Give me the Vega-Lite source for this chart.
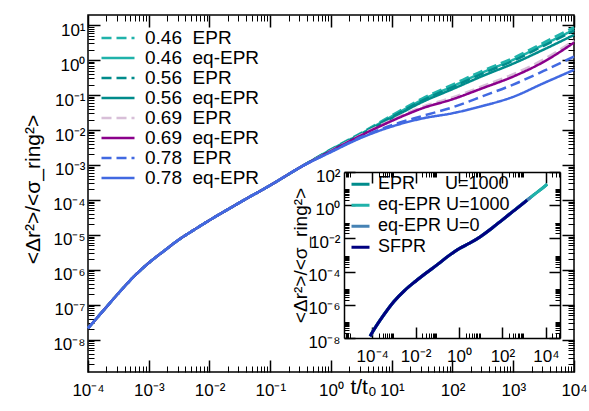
{
  "$schema": "https://vega.github.io/schema/vega-lite/v6.json",
  "width": 486,
  "height": 357,
  "autosize": {"type": "none"},
  "padding": {"left": 88, "top": 15, "right": 15, "bottom": 39},
  "background": "white",
  "config": {
    "view": {"stroke": "black", "strokeWidth": 1.5},
    "font": "Liberation Sans",
    "axis": {
      "labelFont": "Liberation Sans", "labelFontSize": 17, "labelColor": "black",
      "titleFont": "Liberation Sans", "titleFontWeight": "normal", "titleColor": "black",
      "tickColor": "black", "domainColor": "black", "domainWidth": 1.5,
      "grid": false, "labelFlush": false, "labelOverlap": false
    },
    "legend": {"labelFont": "Liberation Sans", "labelFontSize": 18, "labelColor": "black", "labelFontWeight": "normal"}
  },
  "datasets": {
    "main": [
      {"s":"0.46\u00a0\u00a0EPR","t":0.0001,"v":2.138e-8},{"s":"0.46\u00a0\u00a0EPR","t":0.0001778,"v":6.761e-8},{"s":"0.46\u00a0\u00a0EPR","t":0.0003162,"v":2.138e-7},{"s":"0.46\u00a0\u00a0EPR","t":0.0005623,"v":6.31e-7},{"s":"0.46\u00a0\u00a0EPR","t":0.001,"v":1.585e-6},{"s":"0.46\u00a0\u00a0EPR","t":0.001778,"v":3.467e-6},{"s":"0.46\u00a0\u00a0EPR","t":0.003162,"v":7.413e-6},{"s":"0.46\u00a0\u00a0EPR","t":0.005623,"v":1.413e-5},{"s":"0.46\u00a0\u00a0EPR","t":0.01,"v":2.63e-5},{"s":"0.46\u00a0\u00a0EPR","t":0.03162,"v":8.511e-5},{"s":"0.46\u00a0\u00a0EPR","t":0.1,"v":2.63e-4},{"s":"0.46\u00a0\u00a0EPR","t":0.3162,"v":8.71e-4},
      {"s":"0.46\u00a0\u00a0EPR","t":1,"v":2.818e-3},{"s":"0.46\u00a0\u00a0EPR","t":3.162,"v":8.318e-3},{"s":"0.46\u00a0\u00a0EPR","t":10,"v":2.63e-2},{"s":"0.46\u00a0\u00a0EPR","t":31.62,"v":7.943e-2},{"s":"0.46\u00a0\u00a0EPR","t":100,"v":0.1995},{"s":"0.46\u00a0\u00a0EPR","t":316.2,"v":0.5012},{"s":"0.46\u00a0\u00a0EPR","t":1000,"v":1.148},{"s":"0.46\u00a0\u00a0EPR","t":3162,"v":3.162},{"s":"0.46\u00a0\u00a0EPR","t":10000,"v":8.71},

      {"s":"0.46\u00a0\u00a0eq-EPR","t":0.0001,"v":2.138e-8},{"s":"0.46\u00a0\u00a0eq-EPR","t":0.0001778,"v":6.761e-8},{"s":"0.46\u00a0\u00a0eq-EPR","t":0.0003162,"v":2.138e-7},{"s":"0.46\u00a0\u00a0eq-EPR","t":0.0005623,"v":6.31e-7},{"s":"0.46\u00a0\u00a0eq-EPR","t":0.001,"v":1.585e-6},{"s":"0.46\u00a0\u00a0eq-EPR","t":0.001778,"v":3.467e-6},{"s":"0.46\u00a0\u00a0eq-EPR","t":0.003162,"v":7.413e-6},{"s":"0.46\u00a0\u00a0eq-EPR","t":0.005623,"v":1.413e-5},{"s":"0.46\u00a0\u00a0eq-EPR","t":0.01,"v":2.63e-5},{"s":"0.46\u00a0\u00a0eq-EPR","t":0.03162,"v":8.511e-5},{"s":"0.46\u00a0\u00a0eq-EPR","t":0.1,"v":2.63e-4},{"s":"0.46\u00a0\u00a0eq-EPR","t":0.3162,"v":8.71e-4},
      {"s":"0.46\u00a0\u00a0eq-EPR","t":1,"v":2.754e-3},{"s":"0.46\u00a0\u00a0eq-EPR","t":3.162,"v":7.943e-3},{"s":"0.46\u00a0\u00a0eq-EPR","t":10,"v":2.455e-2},{"s":"0.46\u00a0\u00a0eq-EPR","t":31.62,"v":7.244e-2},{"s":"0.46\u00a0\u00a0eq-EPR","t":100,"v":0.1778},{"s":"0.46\u00a0\u00a0eq-EPR","t":316.2,"v":0.4467},{"s":"0.46\u00a0\u00a0eq-EPR","t":1000,"v":1.023},{"s":"0.46\u00a0\u00a0eq-EPR","t":3162,"v":2.754},{"s":"0.46\u00a0\u00a0eq-EPR","t":10000,"v":7.413},

      {"s":"0.56\u00a0\u00a0EPR","t":0.0001,"v":2.138e-8},{"s":"0.56\u00a0\u00a0EPR","t":0.0001778,"v":6.761e-8},{"s":"0.56\u00a0\u00a0EPR","t":0.0003162,"v":2.138e-7},{"s":"0.56\u00a0\u00a0EPR","t":0.0005623,"v":6.31e-7},{"s":"0.56\u00a0\u00a0EPR","t":0.001,"v":1.585e-6},{"s":"0.56\u00a0\u00a0EPR","t":0.001778,"v":3.467e-6},{"s":"0.56\u00a0\u00a0EPR","t":0.003162,"v":7.413e-6},{"s":"0.56\u00a0\u00a0EPR","t":0.005623,"v":1.413e-5},{"s":"0.56\u00a0\u00a0EPR","t":0.01,"v":2.63e-5},{"s":"0.56\u00a0\u00a0EPR","t":0.03162,"v":8.511e-5},{"s":"0.56\u00a0\u00a0EPR","t":0.1,"v":2.63e-4},{"s":"0.56\u00a0\u00a0EPR","t":0.3162,"v":8.71e-4},
      {"s":"0.56\u00a0\u00a0EPR","t":1,"v":2.692e-3},{"s":"0.56\u00a0\u00a0EPR","t":3.162,"v":7.762e-3},{"s":"0.56\u00a0\u00a0EPR","t":10,"v":2.344e-2},{"s":"0.56\u00a0\u00a0EPR","t":31.62,"v":6.918e-2},{"s":"0.56\u00a0\u00a0EPR","t":100,"v":0.1698},{"s":"0.56\u00a0\u00a0EPR","t":316.2,"v":0.4169},{"s":"0.56\u00a0\u00a0EPR","t":1000,"v":0.955},{"s":"0.56\u00a0\u00a0EPR","t":3162,"v":2.57},{"s":"0.56\u00a0\u00a0EPR","t":10000,"v":6.918},

      {"s":"0.56\u00a0\u00a0eq-EPR","t":0.0001,"v":2.138e-8},{"s":"0.56\u00a0\u00a0eq-EPR","t":0.0001778,"v":6.761e-8},{"s":"0.56\u00a0\u00a0eq-EPR","t":0.0003162,"v":2.138e-7},{"s":"0.56\u00a0\u00a0eq-EPR","t":0.0005623,"v":6.31e-7},{"s":"0.56\u00a0\u00a0eq-EPR","t":0.001,"v":1.585e-6},{"s":"0.56\u00a0\u00a0eq-EPR","t":0.001778,"v":3.467e-6},{"s":"0.56\u00a0\u00a0eq-EPR","t":0.003162,"v":7.413e-6},{"s":"0.56\u00a0\u00a0eq-EPR","t":0.005623,"v":1.413e-5},{"s":"0.56\u00a0\u00a0eq-EPR","t":0.01,"v":2.63e-5},{"s":"0.56\u00a0\u00a0eq-EPR","t":0.03162,"v":8.511e-5},{"s":"0.56\u00a0\u00a0eq-EPR","t":0.1,"v":2.63e-4},{"s":"0.56\u00a0\u00a0eq-EPR","t":0.3162,"v":8.71e-4},
      {"s":"0.56\u00a0\u00a0eq-EPR","t":1,"v":2.63e-3},{"s":"0.56\u00a0\u00a0eq-EPR","t":3.162,"v":7.586e-3},{"s":"0.56\u00a0\u00a0eq-EPR","t":10,"v":2.188e-2},{"s":"0.56\u00a0\u00a0eq-EPR","t":31.62,"v":6.31e-2},{"s":"0.56\u00a0\u00a0eq-EPR","t":100,"v":0.1479},{"s":"0.56\u00a0\u00a0eq-EPR","t":316.2,"v":0.3548},{"s":"0.56\u00a0\u00a0eq-EPR","t":1000,"v":0.7943},{"s":"0.56\u00a0\u00a0eq-EPR","t":3162,"v":1.995},{"s":"0.56\u00a0\u00a0eq-EPR","t":10000,"v":5.248},

      {"s":"0.69\u00a0\u00a0EPR","t":0.0001,"v":2.138e-8},{"s":"0.69\u00a0\u00a0EPR","t":0.0001778,"v":6.761e-8},{"s":"0.69\u00a0\u00a0EPR","t":0.0003162,"v":2.138e-7},{"s":"0.69\u00a0\u00a0EPR","t":0.0005623,"v":6.31e-7},{"s":"0.69\u00a0\u00a0EPR","t":0.001,"v":1.585e-6},{"s":"0.69\u00a0\u00a0EPR","t":0.001778,"v":3.467e-6},{"s":"0.69\u00a0\u00a0EPR","t":0.003162,"v":7.413e-6},{"s":"0.69\u00a0\u00a0EPR","t":0.005623,"v":1.413e-5},{"s":"0.69\u00a0\u00a0EPR","t":0.01,"v":2.63e-5},{"s":"0.69\u00a0\u00a0EPR","t":0.03162,"v":8.511e-5},{"s":"0.69\u00a0\u00a0EPR","t":0.1,"v":2.63e-4},{"s":"0.69\u00a0\u00a0EPR","t":0.3162,"v":8.71e-4},
      {"s":"0.69\u00a0\u00a0EPR","t":1,"v":2.57e-3},{"s":"0.69\u00a0\u00a0EPR","t":3.162,"v":7.413e-3},{"s":"0.69\u00a0\u00a0EPR","t":10,"v":1.95e-2},{"s":"0.69\u00a0\u00a0EPR","t":31.62,"v":4.571e-2},{"s":"0.69\u00a0\u00a0EPR","t":100,"v":8.511e-2},{"s":"0.69\u00a0\u00a0EPR","t":316.2,"v":0.182},{"s":"0.69\u00a0\u00a0EPR","t":1000,"v":0.3981},{"s":"0.69\u00a0\u00a0EPR","t":3162,"v":1.047},{"s":"0.69\u00a0\u00a0EPR","t":10000,"v":3.631},

      {"s":"0.69\u00a0\u00a0eq-EPR","t":0.0001,"v":2.138e-8},{"s":"0.69\u00a0\u00a0eq-EPR","t":0.0001778,"v":6.761e-8},{"s":"0.69\u00a0\u00a0eq-EPR","t":0.0003162,"v":2.138e-7},{"s":"0.69\u00a0\u00a0eq-EPR","t":0.0005623,"v":6.31e-7},{"s":"0.69\u00a0\u00a0eq-EPR","t":0.001,"v":1.585e-6},{"s":"0.69\u00a0\u00a0eq-EPR","t":0.001778,"v":3.467e-6},{"s":"0.69\u00a0\u00a0eq-EPR","t":0.003162,"v":7.413e-6},{"s":"0.69\u00a0\u00a0eq-EPR","t":0.005623,"v":1.413e-5},{"s":"0.69\u00a0\u00a0eq-EPR","t":0.01,"v":2.63e-5},{"s":"0.69\u00a0\u00a0eq-EPR","t":0.03162,"v":8.511e-5},{"s":"0.69\u00a0\u00a0eq-EPR","t":0.1,"v":2.63e-4},{"s":"0.69\u00a0\u00a0eq-EPR","t":0.3162,"v":8.71e-4},
      {"s":"0.69\u00a0\u00a0eq-EPR","t":1,"v":2.512e-3},{"s":"0.69\u00a0\u00a0eq-EPR","t":3.162,"v":7.079e-3},{"s":"0.69\u00a0\u00a0eq-EPR","t":10,"v":1.82e-2},{"s":"0.69\u00a0\u00a0eq-EPR","t":31.62,"v":4.169e-2},{"s":"0.69\u00a0\u00a0eq-EPR","t":100,"v":7.586e-2},{"s":"0.69\u00a0\u00a0eq-EPR","t":316.2,"v":0.1585},{"s":"0.69\u00a0\u00a0eq-EPR","t":1000,"v":0.3388},{"s":"0.69\u00a0\u00a0eq-EPR","t":3162,"v":0.8913},{"s":"0.69\u00a0\u00a0eq-EPR","t":10000,"v":3.162},

      {"s":"0.78\u00a0\u00a0EPR","t":0.0001,"v":2.138e-8},{"s":"0.78\u00a0\u00a0EPR","t":0.0001778,"v":6.761e-8},{"s":"0.78\u00a0\u00a0EPR","t":0.0003162,"v":2.138e-7},{"s":"0.78\u00a0\u00a0EPR","t":0.0005623,"v":6.31e-7},{"s":"0.78\u00a0\u00a0EPR","t":0.001,"v":1.585e-6},{"s":"0.78\u00a0\u00a0EPR","t":0.001778,"v":3.467e-6},{"s":"0.78\u00a0\u00a0EPR","t":0.003162,"v":7.413e-6},{"s":"0.78\u00a0\u00a0EPR","t":0.005623,"v":1.413e-5},{"s":"0.78\u00a0\u00a0EPR","t":0.01,"v":2.63e-5},{"s":"0.78\u00a0\u00a0EPR","t":0.03162,"v":8.511e-5},{"s":"0.78\u00a0\u00a0EPR","t":0.1,"v":2.63e-4},{"s":"0.78\u00a0\u00a0EPR","t":0.3162,"v":8.71e-4},
      {"s":"0.78\u00a0\u00a0EPR","t":1,"v":2.399e-3},{"s":"0.78\u00a0\u00a0EPR","t":3.162,"v":6.31e-3},{"s":"0.78\u00a0\u00a0EPR","t":10,"v":1.38e-2},{"s":"0.78\u00a0\u00a0EPR","t":31.62,"v":2.512e-2},{"s":"0.78\u00a0\u00a0EPR","t":100,"v":4.467e-2},{"s":"0.78\u00a0\u00a0EPR","t":316.2,"v":9.333e-2},{"s":"0.78\u00a0\u00a0EPR","t":1000,"v":0.1995},{"s":"0.78\u00a0\u00a0EPR","t":3162,"v":0.4898},{"s":"0.78\u00a0\u00a0EPR","t":10000,"v":1.259},

      {"s":"0.78\u00a0\u00a0eq-EPR","t":0.0001,"v":2.138e-8},{"s":"0.78\u00a0\u00a0eq-EPR","t":0.0001778,"v":6.761e-8},{"s":"0.78\u00a0\u00a0eq-EPR","t":0.0003162,"v":2.138e-7},{"s":"0.78\u00a0\u00a0eq-EPR","t":0.0005623,"v":6.31e-7},{"s":"0.78\u00a0\u00a0eq-EPR","t":0.001,"v":1.585e-6},{"s":"0.78\u00a0\u00a0eq-EPR","t":0.001778,"v":3.467e-6},{"s":"0.78\u00a0\u00a0eq-EPR","t":0.003162,"v":7.413e-6},{"s":"0.78\u00a0\u00a0eq-EPR","t":0.005623,"v":1.413e-5},{"s":"0.78\u00a0\u00a0eq-EPR","t":0.01,"v":2.63e-5},{"s":"0.78\u00a0\u00a0eq-EPR","t":0.03162,"v":8.511e-5},{"s":"0.78\u00a0\u00a0eq-EPR","t":0.1,"v":2.63e-4},{"s":"0.78\u00a0\u00a0eq-EPR","t":0.3162,"v":8.71e-4},
      {"s":"0.78\u00a0\u00a0eq-EPR","t":1,"v":2.344e-3},{"s":"0.78\u00a0\u00a0eq-EPR","t":3.162,"v":6.026e-3},{"s":"0.78\u00a0\u00a0eq-EPR","t":10,"v":1.259e-2},{"s":"0.78\u00a0\u00a0eq-EPR","t":31.62,"v":2.138e-2},{"s":"0.78\u00a0\u00a0eq-EPR","t":100,"v":3.02e-2},{"s":"0.78\u00a0\u00a0eq-EPR","t":316.2,"v":4.898e-2},{"s":"0.78\u00a0\u00a0eq-EPR","t":1000,"v":8.913e-2},{"s":"0.78\u00a0\u00a0eq-EPR","t":3162,"v":0.2188},{"s":"0.78\u00a0\u00a0eq-EPR","t":10000,"v":0.5248}
    ],
    "inset": [
      {"s":"EPR\u00a0\u00a0\u00a0\u00a0\u00a0\u00a0U=1000","t":7.943e-5,"v":1.259e-8},{"s":"EPR\u00a0\u00a0\u00a0\u00a0\u00a0\u00a0U=1000","t":0.0001,"v":2.138e-8},{"s":"EPR\u00a0\u00a0\u00a0\u00a0\u00a0\u00a0U=1000","t":0.0003162,"v":2.138e-7},{"s":"EPR\u00a0\u00a0\u00a0\u00a0\u00a0\u00a0U=1000","t":0.001,"v":1.585e-6},{"s":"EPR\u00a0\u00a0\u00a0\u00a0\u00a0\u00a0U=1000","t":0.003162,"v":7.413e-6},{"s":"EPR\u00a0\u00a0\u00a0\u00a0\u00a0\u00a0U=1000","t":0.01,"v":2.63e-5},{"s":"EPR\u00a0\u00a0\u00a0\u00a0\u00a0\u00a0U=1000","t":0.03162,"v":8.511e-5},{"s":"EPR\u00a0\u00a0\u00a0\u00a0\u00a0\u00a0U=1000","t":0.1,"v":2.63e-4},{"s":"EPR\u00a0\u00a0\u00a0\u00a0\u00a0\u00a0U=1000","t":0.3162,"v":8.511e-4},{"s":"EPR\u00a0\u00a0\u00a0\u00a0\u00a0\u00a0U=1000","t":1,"v":2.399e-3},{"s":"EPR\u00a0\u00a0\u00a0\u00a0\u00a0\u00a0U=1000","t":3.162,"v":5.248e-3},{"s":"EPR\u00a0\u00a0\u00a0\u00a0\u00a0\u00a0U=1000","t":10,"v":1.318e-2},{"s":"EPR\u00a0\u00a0\u00a0\u00a0\u00a0\u00a0U=1000","t":31.62,"v":3.981e-2},{"s":"EPR\u00a0\u00a0\u00a0\u00a0\u00a0\u00a0U=1000","t":100,"v":0.1318},{"s":"EPR\u00a0\u00a0\u00a0\u00a0\u00a0\u00a0U=1000","t":316.2,"v":0.4365},{"s":"EPR\u00a0\u00a0\u00a0\u00a0\u00a0\u00a0U=1000","t":1000,"v":1.445},{"s":"EPR\u00a0\u00a0\u00a0\u00a0\u00a0\u00a0U=1000","t":3162,"v":4.786},{"s":"EPR\u00a0\u00a0\u00a0\u00a0\u00a0\u00a0U=1000","t":10000,"v":15.85},{"s":"EPR\u00a0\u00a0\u00a0\u00a0\u00a0\u00a0U=1000","t":11482,"v":18.62},
      {"s":"eq-EPR U=1000","t":7.943e-5,"v":1.259e-8},{"s":"eq-EPR U=1000","t":0.0001,"v":2.138e-8},{"s":"eq-EPR U=1000","t":0.0003162,"v":2.138e-7},{"s":"eq-EPR U=1000","t":0.001,"v":1.585e-6},{"s":"eq-EPR U=1000","t":0.003162,"v":7.413e-6},{"s":"eq-EPR U=1000","t":0.01,"v":2.63e-5},{"s":"eq-EPR U=1000","t":0.03162,"v":8.511e-5},{"s":"eq-EPR U=1000","t":0.1,"v":2.63e-4},{"s":"eq-EPR U=1000","t":0.3162,"v":8.511e-4},{"s":"eq-EPR U=1000","t":1,"v":2.399e-3},{"s":"eq-EPR U=1000","t":3.162,"v":5.248e-3},{"s":"eq-EPR U=1000","t":10,"v":1.318e-2},{"s":"eq-EPR U=1000","t":31.62,"v":3.981e-2},{"s":"eq-EPR U=1000","t":100,"v":0.1318},{"s":"eq-EPR U=1000","t":316.2,"v":0.4365},{"s":"eq-EPR U=1000","t":1000,"v":1.445},{"s":"eq-EPR U=1000","t":3162,"v":4.786},{"s":"eq-EPR U=1000","t":10000,"v":15.85},{"s":"eq-EPR U=1000","t":11482,"v":18.62},
      {"s":"eq-EPR U=0","t":7.943e-5,"v":1.259e-8},{"s":"eq-EPR U=0","t":0.0001,"v":2.138e-8},{"s":"eq-EPR U=0","t":0.0003162,"v":2.138e-7},{"s":"eq-EPR U=0","t":0.001,"v":1.585e-6},{"s":"eq-EPR U=0","t":0.003162,"v":7.413e-6},{"s":"eq-EPR U=0","t":0.01,"v":2.63e-5},{"s":"eq-EPR U=0","t":0.03162,"v":8.511e-5},{"s":"eq-EPR U=0","t":0.1,"v":2.63e-4},{"s":"eq-EPR U=0","t":0.3162,"v":8.511e-4},{"s":"eq-EPR U=0","t":1,"v":2.399e-3},{"s":"eq-EPR U=0","t":3.162,"v":5.248e-3},{"s":"eq-EPR U=0","t":10,"v":1.318e-2},{"s":"eq-EPR U=0","t":31.62,"v":3.981e-2},{"s":"eq-EPR U=0","t":100,"v":0.1318},{"s":"eq-EPR U=0","t":316.2,"v":0.4365},{"s":"eq-EPR U=0","t":1000,"v":1.445},{"s":"eq-EPR U=0","t":1995,"v":2.951},
      {"s":"SFPR","t":7.943e-5,"v":1.259e-8},{"s":"SFPR","t":0.0001,"v":2.138e-8},{"s":"SFPR","t":0.0003162,"v":2.138e-7},{"s":"SFPR","t":0.001,"v":1.585e-6},{"s":"SFPR","t":0.003162,"v":7.413e-6},{"s":"SFPR","t":0.01,"v":2.63e-5},{"s":"SFPR","t":0.03162,"v":8.511e-5},{"s":"SFPR","t":0.1,"v":2.63e-4},{"s":"SFPR","t":0.3162,"v":8.511e-4},{"s":"SFPR","t":1,"v":2.399e-3},{"s":"SFPR","t":3.162,"v":5.248e-3},{"s":"SFPR","t":10,"v":1.318e-2},{"s":"SFPR","t":31.62,"v":3.981e-2},{"s":"SFPR","t":100,"v":0.1318},{"s":"SFPR","t":316.2,"v":0.4365},{"s":"SFPR","t":1000,"v":1.445},{"s":"SFPR","t":1380,"v":2.042}
    ]
  },
  "resolve": {
    "scale": {"x": "independent", "y": "independent", "color": "independent", "strokeDash": "independent"},
    "axis": {"x": "independent", "y": "independent"}
  },
  "layer": [
    {
      "data": {"name": "main"},
      "mark": {"type": "line", "strokeWidth": 2.5, "interpolate": "monotone"},
      "encoding": {
        "x": {"field": "t", "type": "quantitative", "scale": {"type": "log", "domain": [0.0001, 10000]},
          "axis": {"orient": "bottom", "values": [0.0001, 0.001, 0.01, 0.1, 1, 10, 100, 1000, 10000],
            "labelExpr": "'10' + replace(replace(replace(replace(replace(replace(replace(replace(replace(replace(replace('' + round(log(datum.value)/LN10), '-', '⁻'), '0', '⁰'), '1', '¹'), '2', '²'), '3', '³'), '4', '⁴'), '5', '⁵'), '6', '⁶'), '7', '⁷'), '8', '⁸'), '9', '⁹')",
            "tickSize": -12, "tickWidth": 1.5, "labelPadding": 22, "domain": false,
            "title": "t/t₀", "titleFontSize": 21, "titleX": 275, "titleY": 15, "titleBaseline": "middle", "titleAlign": "center"}},
        "y": {"field": "v", "type": "quantitative", "scale": {"type": "log", "domain": [1.2e-9, 19.5]},
          "axis": {"orient": "left", "values": [1e-8, 1e-7, 1e-6, 1e-5, 1e-4, 0.001, 0.01, 0.1, 1, 10],
            "labelExpr": "'10' + replace(replace(replace(replace(replace(replace(replace(replace(replace(replace(replace('' + round(log(datum.value)/LN10), '-', '⁻'), '0', '⁰'), '1', '¹'), '2', '²'), '3', '³'), '4', '⁴'), '5', '⁵'), '6', '⁶'), '7', '⁷'), '8', '⁸'), '9', '⁹')",
            "tickSize": -12, "tickWidth": 1.5, "labelPadding": 15, "labelOffset": 5, "domain": false,
            "title": "<Δr²>/<σ_ring²>", "titleFontSize": 21, "titleX": -55, "titleY": 174, "titleAngle": -90, "titleBaseline": "middle", "titleAlign": "center"}},
        "color": {"field": "s", "type": "nominal",
          "scale": {"domain": ["0.46\u00a0\u00a0EPR", "0.46\u00a0\u00a0eq-EPR", "0.56\u00a0\u00a0EPR", "0.56\u00a0\u00a0eq-EPR", "0.69\u00a0\u00a0EPR", "0.69\u00a0\u00a0eq-EPR", "0.78\u00a0\u00a0EPR", "0.78\u00a0\u00a0eq-EPR"],
            "range": ["#20b2aa", "#20b2aa", "#008b8b", "#008b8b", "#d8bfd8", "#8b008b", "#4169e1", "#4169e1"]},
          "legend": {"title": null, "orient": "none", "legendX": 12, "legendY": 13, "padding": 0, "symbolType": "stroke", "symbolSize": 1089, "symbolStrokeWidth": 2.5, "clipHeight": 20, "rowPadding": 0, "labelOffset": 9, "labelFontSize": 19}},
        "strokeDash": {"field": "s", "type": "nominal",
          "scale": {"domain": ["0.46\u00a0\u00a0EPR", "0.46\u00a0\u00a0eq-EPR", "0.56\u00a0\u00a0EPR", "0.56\u00a0\u00a0eq-EPR", "0.69\u00a0\u00a0EPR", "0.69\u00a0\u00a0eq-EPR", "0.78\u00a0\u00a0EPR", "0.78\u00a0\u00a0eq-EPR"],
            "range": [[10, 5], [1, 0], [10, 5], [1, 0], [10, 5], [1, 0], [10, 5], [1, 0]]},
          "legend": {"title": null, "orient": "none", "legendX": 12, "legendY": 13, "padding": 0, "symbolType": "stroke", "symbolSize": 1089, "symbolStrokeWidth": 2.5, "clipHeight": 20, "rowPadding": 0, "labelOffset": 9, "labelFontSize": 19}}
      }
    },
    {
      "data": {"name": "main"},
      "mark": {"type": "point", "opacity": 0, "size": 1},
      "encoding": {
        "x": {"field": "t", "type": "quantitative", "scale": {"type": "log", "domain": [0.0001, 10000]},
          "axis": {"orient": "top", "values": [0.0001, 0.001, 0.01, 0.1, 1, 10, 100, 1000, 10000], "labels": false, "tickSize": -12, "tickWidth": 1.5, "domain": false, "title": null}},
        "y": {"field": "v", "type": "quantitative", "scale": {"type": "log", "domain": [1.2e-9, 19.5]},
          "axis": {"orient": "right", "values": [1e-8, 1e-7, 1e-6, 1e-5, 1e-4, 0.001, 0.01, 0.1, 1, 10], "labels": false, "tickSize": -12, "tickWidth": 1.5, "domain": false, "title": null}}
      }
    },
    {
      "data": {"name": "main"},
      "mark": {"type": "point", "opacity": 0, "size": 1},
      "encoding": {
        "x": {"field": "t", "type": "quantitative", "scale": {"type": "log", "domain": [0.0001, 10000]},
          "axis": {"orient": "bottom", "values": [2e-4,3e-4,4e-4,5e-4,6e-4,7e-4,8e-4,9e-4,0.002,0.003,0.004,0.005,0.006,0.007,0.008,0.009,0.02,0.03,0.04,0.05,0.06,0.07,0.08,0.09,0.2,0.3,0.4,0.5,0.6,0.7,0.8,0.9,2,3,4,5,6,7,8,9,20,30,40,50,60,70,80,90,200,300,400,500,600,700,800,900,2000,3000,4000,5000,6000,7000,8000,9000], "labels": false, "tickSize": -6, "tickWidth": 1, "domain": false, "title": null}},
        "y": {"field": "v", "type": "quantitative", "scale": {"type": "log", "domain": [1.2e-9, 19.5]},
          "axis": {"orient": "left", "values": [2e-9,3e-9,4e-9,5e-9,6e-9,7e-9,8e-9,9e-9,2e-8,3e-8,4e-8,5e-8,6e-8,7e-8,8e-8,9e-8,2e-7,3e-7,4e-7,5e-7,6e-7,7e-7,8e-7,9e-7,2e-6,3e-6,4e-6,5e-6,6e-6,7e-6,8e-6,9e-6,2e-5,3e-5,4e-5,5e-5,6e-5,7e-5,8e-5,9e-5,2e-4,3e-4,4e-4,5e-4,6e-4,7e-4,8e-4,9e-4,0.002,0.003,0.004,0.005,0.006,0.007,0.008,0.009,0.02,0.03,0.04,0.05,0.06,0.07,0.08,0.09,0.2,0.3,0.4,0.5,0.6,0.7,0.8,0.9,2,3,4,5,6,7,8,9], "labels": false, "tickSize": -6, "tickWidth": 1, "domain": false, "title": null}}
      }
    },
    {
      "data": {"name": "main"},
      "mark": {"type": "point", "opacity": 0, "size": 1},
      "encoding": {
        "x": {"field": "t", "type": "quantitative", "scale": {"type": "log", "domain": [0.0001, 10000]},
          "axis": {"orient": "top", "values": [2e-4,3e-4,4e-4,5e-4,6e-4,7e-4,8e-4,9e-4,0.002,0.003,0.004,0.005,0.006,0.007,0.008,0.009,0.02,0.03,0.04,0.05,0.06,0.07,0.08,0.09,0.2,0.3,0.4,0.5,0.6,0.7,0.8,0.9,2,3,4,5,6,7,8,9,20,30,40,50,60,70,80,90,200,300,400,500,600,700,800,900,2000,3000,4000,5000,6000,7000,8000,9000], "labels": false, "tickSize": -6, "tickWidth": 1, "domain": false, "title": null}},
        "y": {"field": "v", "type": "quantitative", "scale": {"type": "log", "domain": [1.2e-9, 19.5]},
          "axis": {"orient": "right", "values": [2e-9,3e-9,4e-9,5e-9,6e-9,7e-9,8e-9,9e-9,2e-8,3e-8,4e-8,5e-8,6e-8,7e-8,8e-8,9e-8,2e-7,3e-7,4e-7,5e-7,6e-7,7e-7,8e-7,9e-7,2e-6,3e-6,4e-6,5e-6,6e-6,7e-6,8e-6,9e-6,2e-5,3e-5,4e-5,5e-5,6e-5,7e-5,8e-5,9e-5,2e-4,3e-4,4e-4,5e-4,6e-4,7e-4,8e-4,9e-4,0.002,0.003,0.004,0.005,0.006,0.007,0.008,0.009,0.02,0.03,0.04,0.05,0.06,0.07,0.08,0.09,0.2,0.3,0.4,0.5,0.6,0.7,0.8,0.9,2,3,4,5,6,7,8,9], "labels": false, "tickSize": -6, "tickWidth": 1, "domain": false, "title": null}}
      }
    },
    {
      "data": {"name": "inset"},
      "mark": {"type": "line", "strokeWidth": 3, "interpolate": "monotone"},
      "encoding": {
        "x": {"field": "t", "type": "quantitative", "scale": {"type": "log", "domain": [5e-6, 45000], "range": [256, 472]},
          "axis": {"orient": "bottom", "offset": -34, "values": [0.0001, 0.01, 1, 100, 10000],
            "labelExpr": "'10' + replace(replace(replace(replace(replace(replace(replace(replace(replace(replace(replace('' + round(log(datum.value)/LN10), '-', '⁻'), '0', '⁰'), '1', '¹'), '2', '²'), '3', '³'), '4', '⁴'), '5', '⁵'), '6', '⁶'), '7', '⁷'), '8', '⁸'), '9', '⁹')",
            "tickSize": -11, "tickWidth": 1.5, "labelPadding": 21, "domain": true, "title": null}},
        "y": {"field": "v", "type": "quantitative", "scale": {"type": "log", "domain": [1e-8, 100], "range": [323, 157]},
          "axis": {"orient": "left", "offset": -256, "values": [1e-8, 1e-6, 1e-4, 0.01, 1, 100],
            "labelExpr": "'10' + replace(replace(replace(replace(replace(replace(replace(replace(replace(replace(replace('' + round(log(datum.value)/LN10), '-', '⁻'), '0', '⁰'), '1', '¹'), '2', '²'), '3', '³'), '4', '⁴'), '5', '⁵'), '6', '⁶'), '7', '⁷'), '8', '⁸'), '9', '⁹')",
            "tickSize": -11, "tickWidth": 1.5, "labelPadding": 15, "labelOffset": 4, "domain": true,
            "title": "<Δr²>/<σ_ring²>", "titleFontSize": 19, "titleX": -44, "titleY": 240, "titleAngle": -90, "titleBaseline": "middle", "titleAlign": "center"}},
        "color": {"field": "s", "type": "nominal",
          "scale": {"domain": ["EPR\u00a0\u00a0\u00a0\u00a0\u00a0\u00a0U=1000", "eq-EPR U=1000", "eq-EPR U=0", "SFPR"], "range": ["#008b8b", "#20b2aa", "#4682b4", "#000080"]},
          "legend": {"title": null, "orient": "none", "legendX": 262, "legendY": 159, "padding": 0, "symbolType": "stroke", "symbolSize": 324, "symbolStrokeWidth": 3, "clipHeight": 20.3, "rowPadding": 0, "labelOffset": 7, "labelFontSize": 18}}
      }
    },
    {
      "data": {"name": "inset"},
      "mark": {"type": "point", "opacity": 0, "size": 1},
      "encoding": {
        "x": {"field": "t", "type": "quantitative", "scale": {"type": "log", "domain": [5e-6, 45000], "range": [256, 472]},
          "axis": {"orient": "top", "offset": -157, "values": [0.0001, 0.01, 1, 100, 10000], "labels": false, "tickSize": -11, "tickWidth": 1.5, "domain": true, "title": null}},
        "y": {"field": "v", "type": "quantitative", "scale": {"type": "log", "domain": [1e-8, 100], "range": [323, 157]},
          "axis": {"orient": "right", "offset": -14, "values": [1e-8, 1e-6, 1e-4, 0.01, 1, 100], "labels": false, "tickSize": -11, "tickWidth": 1.5, "domain": true, "title": null}}
      }
    },
    {
      "data": {"name": "inset"},
      "mark": {"type": "point", "opacity": 0, "size": 1},
      "encoding": {
        "x": {"field": "t", "type": "quantitative", "scale": {"type": "log", "domain": [5e-6, 45000], "range": [256, 472]},
          "axis": {"orient": "bottom", "offset": -34, "values": [6e-6,7e-6,8e-6,9e-6,2e-4,3e-4,4e-4,5e-4,6e-4,7e-4,8e-4,9e-4,0.02,0.03,0.04,0.05,0.06,0.07,0.08,0.09,2,3,4,5,6,7,8,9,200,300,400,500,600,700,800,900,20000,30000,40000], "labels": false, "tickSize": -5, "tickWidth": 1, "domain": false, "title": null}},
        "y": {"field": "v", "type": "quantitative", "scale": {"type": "log", "domain": [1e-8, 100], "range": [323, 157]},
          "axis": {"orient": "left", "offset": -256, "values": [2e-8,3e-8,4e-8,5e-8,6e-8,7e-8,8e-8,9e-8,2e-6,3e-6,4e-6,5e-6,6e-6,7e-6,8e-6,9e-6,2e-4,3e-4,4e-4,5e-4,6e-4,7e-4,8e-4,9e-4,0.02,0.03,0.04,0.05,0.06,0.07,0.08,0.09,2,3,4,5,6,7,8,9], "labels": false, "tickSize": -5, "tickWidth": 1, "domain": false, "title": null}}
      }
    },
    {
      "data": {"name": "inset"},
      "mark": {"type": "point", "opacity": 0, "size": 1},
      "encoding": {
        "x": {"field": "t", "type": "quantitative", "scale": {"type": "log", "domain": [5e-6, 45000], "range": [256, 472]},
          "axis": {"orient": "top", "offset": -157, "values": [6e-6,7e-6,8e-6,9e-6,2e-4,3e-4,4e-4,5e-4,6e-4,7e-4,8e-4,9e-4,0.02,0.03,0.04,0.05,0.06,0.07,0.08,0.09,2,3,4,5,6,7,8,9,200,300,400,500,600,700,800,900,20000,30000,40000], "labels": false, "tickSize": -5, "tickWidth": 1, "domain": false, "title": null}},
        "y": {"field": "v", "type": "quantitative", "scale": {"type": "log", "domain": [1e-8, 100], "range": [323, 157]},
          "axis": {"orient": "right", "offset": -14, "values": [2e-8,3e-8,4e-8,5e-8,6e-8,7e-8,8e-8,9e-8,2e-6,3e-6,4e-6,5e-6,6e-6,7e-6,8e-6,9e-6,2e-4,3e-4,4e-4,5e-4,6e-4,7e-4,8e-4,9e-4,0.02,0.03,0.04,0.05,0.06,0.07,0.08,0.09,2,3,4,5,6,7,8,9], "labels": false, "tickSize": -5, "tickWidth": 1, "domain": false, "title": null}}
      }
    }
  ]
}
